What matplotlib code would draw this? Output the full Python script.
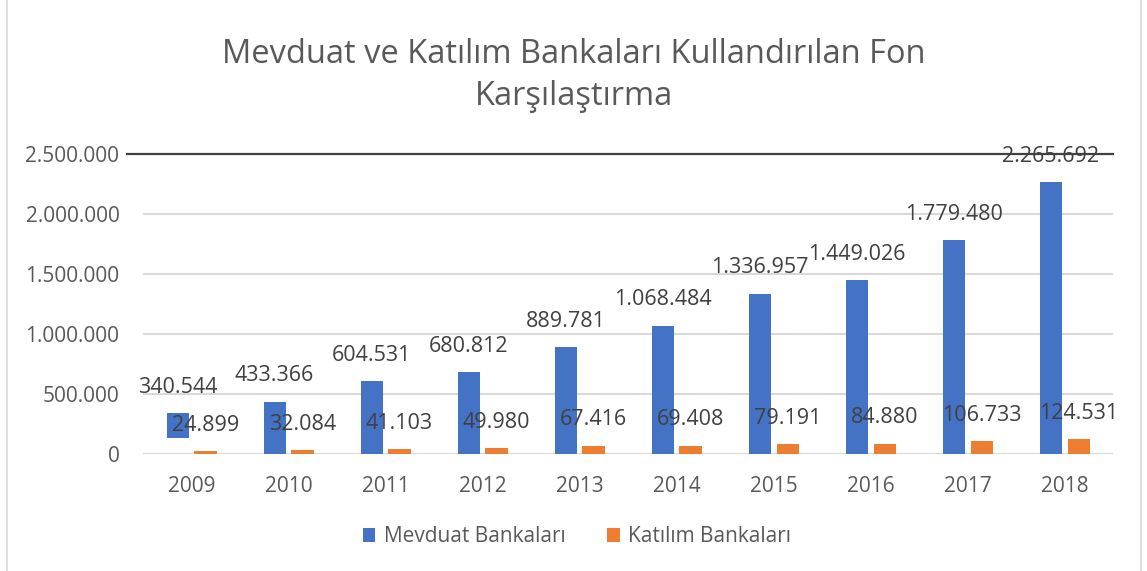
import matplotlib.pyplot as plt
from matplotlib.lines import Line2D
import numpy as np

plt.rcParams['font.family'] = ['Open Sans', 'DejaVu Sans']

years = ['2009', '2010', '2011', '2012', '2013', '2014', '2015', '2016', '2017', '2018']
mevduat = [340544, 433366, 604531, 680812, 889781, 1068484, 1336957, 1449026, 1779480, 2265692]
katilim = [24899, 32084, 41103, 49980, 67416, 69408, 79191, 84880, 106733, 124531]
# the 2009 blue bar is cut at the bottom in the original picture
mevduat_bottom = [130000, 0, 0, 0, 0, 0, 0, 0, 0, 0]

yticks = [0, 500000, 1000000, 1500000, 2000000, 2500000]
series_names = ['Mevduat Bankaları', 'Katılım Bankaları']


def tr_format(v):
    return '{:,}'.format(int(v)).replace(',', '.')


fig = plt.figure(figsize=(11.47, 5.71), dpi=100)
ax = fig.add_axes([0.1247, 0.2049, 0.8457, 0.5254])

x = np.arange(len(years))
w = 0.227
off = 0.144
blue = '#4472C4'
orange = '#ED7D31'

heights = [m - b for m, b in zip(mevduat, mevduat_bottom)]
b1 = ax.bar(x - off, heights, w, bottom=mevduat_bottom, color=blue, label=series_names[0], zorder=2)
b2 = ax.bar(x + off, katilim, w, color=orange, label=series_names[1], zorder=2)

for xi, v in zip(x, mevduat):
    ax.annotate(tr_format(v), (xi - off, v), xytext=(0, 26), textcoords='offset pixels',
                ha='center', va='center', fontsize=15.5, color='#404040', zorder=4,
                annotation_clip=False)
for xi, v in zip(x, katilim):
    ax.annotate(tr_format(v), (xi + off, v), xytext=(0, 26), textcoords='offset pixels',
                ha='center', va='center', fontsize=15.5, color='#404040', zorder=4,
                annotation_clip=False)

ax.set_xlim(-0.5, len(years) - 0.5)
ax.set_ylim(0, 2500000)
ax.set_yticks(yticks)
ax.set_yticklabels([tr_format(t) for t in yticks])
ax.set_xticks(x)
ax.set_xticklabels(years)
ax.tick_params(axis='both', length=0, labelsize=15, colors='#595959')
ax.tick_params(axis='y', pad=17)
ax.tick_params(axis='x', pad=16)

for s in ax.spines.values():
    s.set_visible(False)
ax.yaxis.grid(True, color='#D9D9D9', linewidth=1.5, zorder=0)
ax.set_axisbelow(True)

# dark line at the top value, reaching a bit into the label area
ax.plot([-0.0165, 1], [2500000, 2500000], transform=ax.get_yaxis_transform(),
        color='#404040', linewidth=1.6, clip_on=False, zorder=3)

fig.text(0.5, 0.868, 'Mevduat ve Katılım Bankaları Kullandırılan Fon\nKarşılaştırma',
         ha='center', va='center', fontsize=23.5, color='#595959', linespacing=1.38)

fig.legend(handles=[b1, b2], loc='center', bbox_to_anchor=(0.503, 0.06), ncol=2,
           frameon=False, fontsize=15, handlelength=0.6, handleheight=0.6,
           handletextpad=0.4, columnspacing=2.0, labelcolor='#595959')

# chart border (left and right edges visible)
for fx in [7 / 1147, 1141 / 1147]:
    fig.add_artist(Line2D([fx, fx], [0, 1], transform=fig.transFigure, color='#D9D9D9', linewidth=1.2))

fig.savefig('out.png', dpi=100)
